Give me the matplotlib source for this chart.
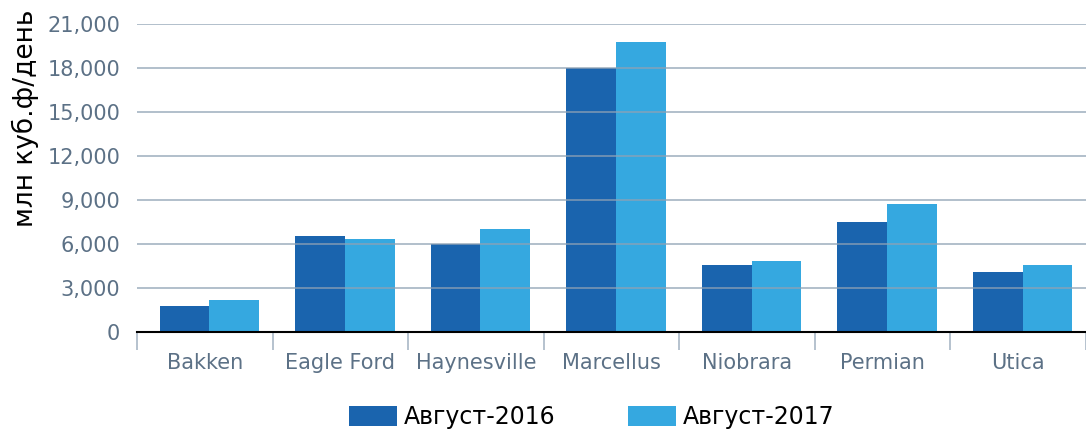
import numpy as np
import matplotlib.pyplot as plt

plt.rcParams['font.family'] = ['DejaVu Sans']

basins = ['Bakken', 'Eagle Ford', 'Haynesville', 'Marcellus', 'Niobrara', 'Permian', 'Utica']
aug2016 = [1750, 6550, 6000, 18000, 4570, 7500, 4090]
aug2017 = [2200, 6350, 7050, 19750, 4850, 8750, 4570]
yticks = [0, 3000, 6000, 9000, 12000, 15000, 18000, 21000]

c16 = '#1a64ae'
c17 = '#35a8e0'
grid_c = '#8fa2b5'
tick_c = '#5c7186'

fig = plt.figure(figsize=(10.86, 4.33), dpi=100)
ax = fig.add_axes([137/1086, 1 - 332/433, 1 - 137/1086, 308/433])

x = np.arange(len(basins))
w = 0.367
off = 0.033  # bars sit slightly right of the category centre
ax.bar(x + off - w/2, aug2016, w, color=c16, label='Август-2016', zorder=2)
ax.bar(x + off + w/2, aug2017, w, color=c17, label='Август-2017', zorder=2)

# gridlines drawn over the bars, semi-transparent
for t in yticks[1:]:
    ax.axhline(t, color=grid_c, lw=1.3, alpha=0.75, zorder=3)

ax.set_xlim(-0.5, len(basins) - 0.5)
ax.set_ylim(0, 21000)
ax.set_yticks(yticks)
ax.set_yticklabels(['{:,}'.format(v) for v in yticks], fontsize=15, color=tick_c)
ax.tick_params(axis='y', length=0, pad=12)

ax.set_xticks(x)
ax.set_xticklabels(basins, fontsize=15, color=tick_c)
ax.tick_params(axis='x', length=0, pad=15)
# category separators
ax.set_xticks(np.arange(len(basins) + 1) - 0.5, minor=True)
ax.tick_params(axis='x', which='minor', length=13, width=1.2, color='#a9b8c6')

for s in ['top', 'right', 'left']:
    ax.spines[s].set_visible(False)
ax.spines['bottom'].set_color('black')
ax.spines['bottom'].set_linewidth(1.5)
ax.spines['bottom'].set_zorder(4)

fig.text(25/1086, 1 - 118/433, 'млн куб.ф/день', fontsize=19, color='black',
         rotation=90, ha='center', va='center')

fig.legend(loc='center', bbox_to_anchor=(0.545, 1 - 417/433), ncol=2, frameon=False,
           fontsize=17, handlelength=2.0, handleheight=0.9, columnspacing=3.1,
           handletextpad=0.3)

fig.savefig('out.png', dpi=100)
